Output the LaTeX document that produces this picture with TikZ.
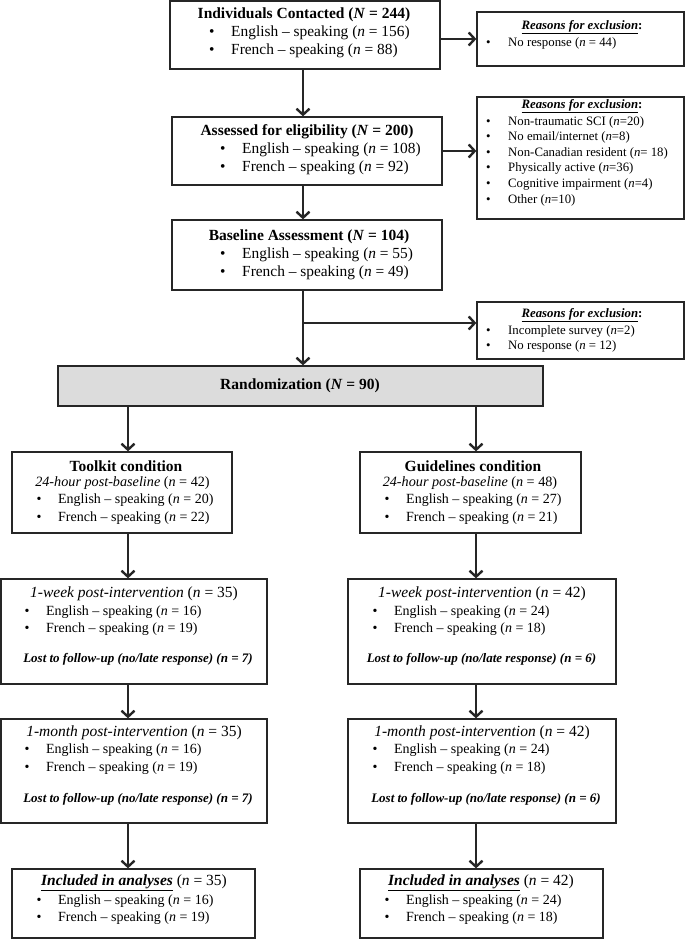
\documentclass[tikz,border=0pt]{standalone}
\usepackage{fontspec}
\setmainfont{Liberation Serif}
\usetikzlibrary{arrows.meta}
\definecolor{ln}{HTML}{262626}
\definecolor{rndfill}{HTML}{DCDCDC}
\newcommand\blt[2]{\makebox[#1pt][l]{\textbullet}#2}
\tikzset{
  box/.style={draw=ln, line width=1.3pt, fill=white, inner sep=0pt, rectangle},
  flow/.style={draw=ln, line width=2.4pt, -{Straight Barb[length=6pt,width=13pt]}},
  ttl/.style={inner sep=0pt, font=\fontsize{15.5}{18}\selectfont},
  itm/.style={inner sep=0pt, anchor=west, font=\fontsize{15.4}{18}\selectfont},
  itms/.style={inner sep=0pt, anchor=west, font=\fontsize{14}{17}\selectfont},
  exc/.style={inner sep=0pt, anchor=west, font=\fontsize{12.8}{15}\selectfont},
  exct/.style={inner sep=0pt, font=\fontsize{12.8}{15}\selectfont},
  lost/.style={inner sep=0pt, font=\fontsize{13}{15}\selectfont\bfseries\itshape},
}
\begin{document}
\begin{tikzpicture}[x=1pt,y=-1pt]
\useasboundingbox (0,0) rectangle (685,939);
\coordinate (mx) at (303,0);
\coordinate (lx) at (128,0);
\coordinate (rx) at (476,0);

% ---------- boxes ----------
\node[box, minimum width=270pt, minimum height=68pt] (b1) at (305,35) {};
\node[box, minimum width=270pt, minimum height=68pt] (b2) at (307,151) {};
\node[box, minimum width=270pt, minimum height=70pt] (b3) at (307,255) {};
\node[box, minimum width=207pt, minimum height=54pt] (e1) at (580.5,39) {};
\node[box, minimum width=207pt, minimum height=122pt] (e2) at (580.5,158) {};
\node[box, minimum width=207pt, minimum height=57pt] (e3) at (580.5,330.5) {};
\node[box, fill=rndfill, minimum width=485pt, minimum height=40pt] (rnd) at (300.5,386) {};
\node[box, minimum width=220pt, minimum height=81pt] (tk) at (122,492.5) {};
\node[box, minimum width=221pt, minimum height=81pt] (gl) at (470.5,492.5) {};
\node[box, minimum width=266pt, minimum height=105pt] (w1) at (134,631.5) {};
\node[box, minimum width=268pt, minimum height=105pt] (w2) at (482,631.5) {};
\node[box, minimum width=266pt, minimum height=104pt] (m1) at (134,771) {};
\node[box, minimum width=268pt, minimum height=104pt] (m2) at (482,771) {};
\node[box, minimum width=243pt, minimum height=69pt] (i1) at (133.5,903.5) {};
\node[box, minimum width=243pt, minimum height=69pt] (i2) at (481.5,903.5) {};

% ---------- texts: top column ----------
\node[ttl] (b1t) at (304,15) {\textbf{Individuals Contacted (\textit{N} = 244)}};
\node[itm] (b1a) at (209,33) {\blt{22}{English – speaking (\textit{n} = 156)}};
\node[itm] (b1b) at (209,51) {\blt{22}{French – speaking (\textit{n} = 88)}};

\node[ttl] (b2t) at (307,132) {\textbf{Assessed for eligibility (\textit{N} = 200)}};
\node[itm] (b2a) at (220,150) {\blt{22}{English – speaking (\textit{n} = 108)}};
\node[itm] (b2b) at (220,168) {\blt{22}{French – speaking (\textit{n} = 92)}};

\node[ttl] (b3t) at (309,237) {\textbf{Baseline Assessment (\textit{N} = 104)}};
\node[itm] (b3a) at (220,255) {\blt{22}{English – speaking (\textit{n} = 55)}};
\node[itm] (b3b) at (220,272.5) {\blt{22}{French – speaking (\textit{n} = 49)}};

% ---------- exclusion boxes ----------
\node[exct] (e1t) at (582,27) {\textbf{\textit{\underline{Reasons for exclusion}}:}};
\node[exc] (e1a) at (486,43) {\blt{22}{No response (\textit{n} = 44)}};

\node[exct] (e2t) at (582,106) {\textbf{\textit{\underline{Reasons for exclusion}}:}};
\node[exc] (e2a) at (486,122) {\blt{22}{Non-traumatic SCI (\textit{n}=20)}};
\node[exc] (e2b) at (486,137.6) {\blt{22}{No email/internet (\textit{n}=8)}};
\node[exc] (e2c) at (486,153.2) {\blt{22}{Non-Canadian resident (\textit{n}= 18)}};
\node[exc] (e2d) at (486,168.8) {\blt{22}{Physically active (\textit{n}=36)}};
\node[exc] (e2e) at (486,184.4) {\blt{22}{Cognitive impairment (\textit{n}=4)}};
\node[exc] (e2f) at (486,200) {\blt{22}{Other (\textit{n}=10)}};

\node[exct] (e3t) at (582,315) {\textbf{\textit{\underline{Reasons for exclusion}}:}};
\node[exc] (e3a) at (486,331) {\blt{22}{Incomplete survey (\textit{n}=2)}};
\node[exc] (e3b) at (486,346) {\blt{22}{No response (\textit{n} = 12)}};

\node[ttl] (rndt) at (300,386) {\textbf{Randomization (\textit{N} = 90)}};

% ---------- conditions ----------
\node[ttl] (tkt) at (126,466) {\textbf{Toolkit condition}};
\node[ttl, font=\fontsize{14.2}{17}\selectfont] (tks) at (122.5,483) {\textit{24-hour post-baseline} (\textit{n} = 42)};
\node[itms] (tka) at (36.5,500) {\blt{21.5}{English – speaking (\textit{n} = 20)}};
\node[itms] (tkb) at (36.5,518) {\blt{21.5}{French – speaking (\textit{n} = 22)}};

\node[ttl] (glt) at (473,466) {\textbf{Guidelines condition}};
\node[ttl, font=\fontsize{14.2}{17}\selectfont] (gls) at (470,483) {\textit{24-hour post-baseline} (\textit{n} = 48)};
\node[itms] (gla) at (384.5,500) {\blt{21.5}{English – speaking (\textit{n} = 27)}};
\node[itms] (glb) at (384.5,518) {\blt{21.5}{French – speaking (\textit{n} = 21)}};

% ---------- 1 week ----------
\node[ttl] (w1t) at (134,594) {\textit{1-week post-intervention} (\textit{n} = 35)};
\node[itms] (w1a) at (24.5,612) {\blt{21.5}{English – speaking (\textit{n} = 16)}};
\node[itms] (w1b) at (24.5,629) {\blt{21.5}{French – speaking (\textit{n} = 19)}};
\node[lost] (w1l) at (138,659) {Lost to follow-up (no/late response) (n = 7)};

\node[ttl] (w2t) at (482,594) {\textit{1-week post-intervention} (\textit{n} = 42)};
\node[itms] (w2a) at (372.5,612) {\blt{21.5}{English – speaking (\textit{n} = 24)}};
\node[itms] (w2b) at (372.5,629) {\blt{21.5}{French – speaking (\textit{n} = 18)}};
\node[lost] (w2l) at (481.5,659) {Lost to follow-up (no/late response) (n = 6)};

% ---------- 1 month ----------
\node[ttl] (m1t) at (134,733) {\textit{1-month post-intervention} (\textit{n} = 35)};
\node[itms] (m1a) at (24.5,750) {\blt{21.5}{English – speaking (\textit{n} = 16)}};
\node[itms] (m1b) at (24.5,768) {\blt{21.5}{French – speaking (\textit{n} = 19)}};
\node[lost] (m1l) at (138,799) {Lost to follow-up (no/late response) (n = 7)};

\node[ttl] (m2t) at (482,733) {\textit{1-month post-intervention} (\textit{n} = 42)};
\node[itms] (m2a) at (372.5,750) {\blt{21.5}{English – speaking (\textit{n} = 24)}};
\node[itms] (m2b) at (372.5,768) {\blt{21.5}{French – speaking (\textit{n} = 18)}};
\node[lost] (m2l) at (486,799) {Lost to follow-up (no/late response) (n = 6)};

% ---------- included ----------
\node[ttl] (i1t) at (134,883) {\textbf{\textit{\underline{Included in analyses}}} (\textit{n} = 35)};
\node[itms] (i1a) at (36.5,901) {\blt{21.5}{English – speaking (\textit{n} = 16)}};
\node[itms] (i1b) at (36.5,918) {\blt{21.5}{French – speaking (\textit{n} = 19)}};

\node[ttl] (i2t) at (481,883) {\textbf{\textit{\underline{Included in analyses}}} (\textit{n} = 42)};
\node[itms] (i2a) at (384.5,901) {\blt{21.5}{English – speaking (\textit{n} = 24)}};
\node[itms] (i2b) at (384.5,918) {\blt{21.5}{French – speaking (\textit{n} = 18)}};

% ---------- connectors ----------
\draw[flow] (b1.south -| mx) -- (b2.north -| mx);
\draw[flow] (b2.south -| mx) -- (b3.north -| mx);
\draw[flow] (b3.south -| mx) -- (rnd.north -| mx);
\draw[flow] (b1.east |- e1.west) -- (e1.west);
\draw[flow] (b2.east) -- (b2.east -| e2.west);
\coordinate (br) at (303,323);
\draw[flow] (br) -- (br -| e3.west);

\draw[flow] (rnd.south -| lx) -- (tk.north -| lx);
\draw[flow] (rnd.south -| rx) -- (gl.north -| rx);
\draw[flow] (tk.south -| lx) -- (w1.north -| lx);
\draw[flow] (gl.south -| rx) -- (w2.north -| rx);
\draw[flow] (w1.south -| lx) -- (m1.north -| lx);
\draw[flow] (w2.south -| rx) -- (m2.north -| rx);
\draw[flow] (m1.south -| lx) -- (i1.north -| lx);
\draw[flow] (m2.south -| rx) -- (i2.north -| rx);
\end{tikzpicture}
\end{document}
